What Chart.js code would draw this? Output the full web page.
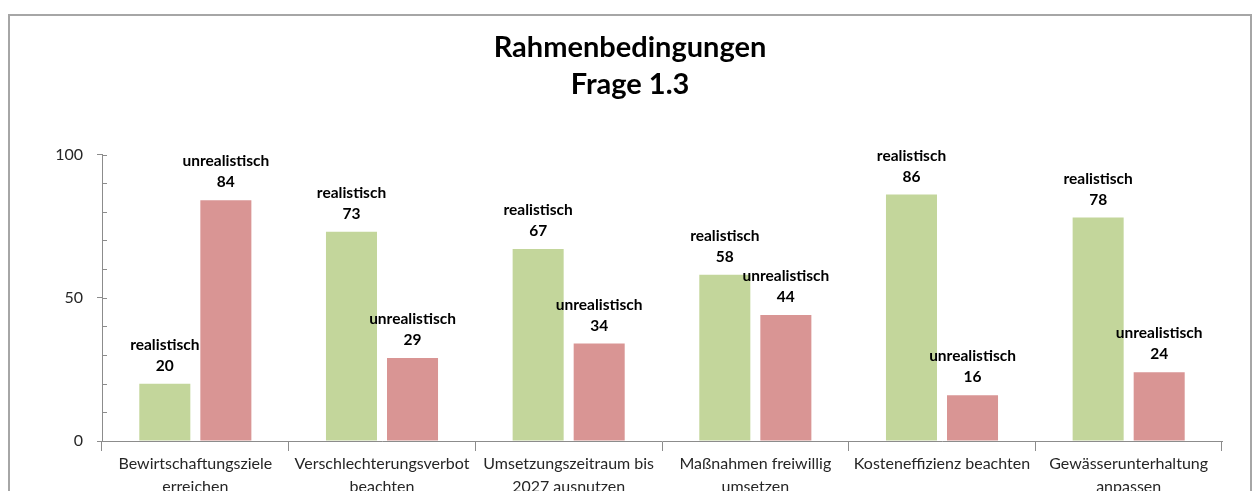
<!DOCTYPE html>
<html>
<head>
<meta charset="utf-8">
<script src="https://cdn.jsdelivr.net/npm/chart.js@4.4.0/dist/chart.umd.min.js"></script>
<style>
  html, body { margin: 0; padding: 0; background: #fff; overflow: hidden; }
  #frame {
    position: absolute; left: 8px; top: 14px;
    width: 1240px; height: 490px;
    border: 2px solid #a6a6a6;
  }
  #chart { display: block; }
</style>
</head>
<body>
<div id="frame"><canvas id="chart" width="1240" height="490"></canvas></div>
<script>
// Frage 1.3 - Rahmenbedingungen
const categories = [
    ['Bewirtschaftungsziele', 'erreichen'],
    ['Verschlechterungsverbot', 'beachten'],
    ['Umsetzungszeitraum bis', '2027 ausnutzen'],
    ['Maßnahmen freiwillig', 'umsetzen'],
    ['Kosteneffizienz beachten'],
    ['Gewässerunterhaltung', 'anpassen']
];
const realistisch = [20, 73, 67, 58, 86, 78];
const unrealistisch = [84, 29, 34, 44, 16, 24];
const yMajorTicks = [0, 50, 100];

const FONT = 'Lato, "Open Sans", sans-serif';
const AXIS_COLOR = '#8c8c8c';

// labels above each bar: series name + value
const barLabels = {
    id: 'barLabels',
    afterDatasetsDraw(chart) {
        const ctx = chart.ctx;
        ctx.save();
        ctx.fillStyle = '#000';
        ctx.font = 'bold 15.5px ' + FONT;
        ctx.textAlign = 'center';
        ctx.textBaseline = 'middle';
        chart.data.datasets.forEach((ds, i) => {
            chart.getDatasetMeta(i).data.forEach((bar, j) => {
                ctx.fillText(ds.label, bar.x, bar.y - 39);
                ctx.fillText(String(ds.data[j]), bar.x, bar.y - 18);
            });
        });
        ctx.restore();
    }
};

// small inside ticks every 10 on the value axis
const minorTicks = {
    id: 'minorTicks',
    afterDraw(chart) {
        const y = chart.scales.y;
        const ctx = chart.ctx;
        ctx.save();
        ctx.strokeStyle = AXIS_COLOR;
        ctx.lineWidth = 1;
        y.ticks.forEach(t => {
            const py = Math.round(y.getPixelForValue(t.value)) + 0.5;
            ctx.beginPath();
            ctx.moveTo(y.right, py);
            ctx.lineTo(y.right + 5, py);
            ctx.stroke();
        });
        ctx.restore();
    }
};

new Chart(document.getElementById('chart'), {
    type: 'bar',
    data: {
        labels: categories,
        datasets: [
            {
                label: 'realistisch',
                data: realistisch,
                backgroundColor: '#c3d69b',
                categoryPercentage: 0.654,
                barPercentage: 0.836
            },
            {
                label: 'unrealistisch',
                data: unrealistisch,
                backgroundColor: '#d99594',
                categoryPercentage: 0.654,
                barPercentage: 0.836
            }
        ]
    },
    options: {
        responsive: false,
        animation: false,
        layout: { padding: 0 },
        plugins: {
            legend: { display: false },
            tooltip: { enabled: false },
            title: {
                display: true,
                text: ['Rahmenbedingungen', 'Frage 1.3'],
                color: '#000',
                font: { family: FONT, size: 29, weight: 'bold', lineHeight: 1.25 },
                padding: { top: 14, bottom: 52 }
            }
        },
        scales: {
            x: {
                grid: {
                    offset: true,
                    drawOnChartArea: false,
                    tickLength: 10,
                    color: AXIS_COLOR
                },
                border: { color: AXIS_COLOR },
                ticks: {
                    color: '#262626',
                    font: { family: FONT, size: 16, lineHeight: 1.4 },
                    padding: 2,
                    maxRotation: 0,
                    autoSkip: false
                },
                afterFit(scale) { scale.height = 65; }
            },
            y: {
                min: 0,
                max: 100,
                grid: {
                    drawOnChartArea: false,
                    tickLength: 5,
                    color: ctx => yMajorTicks.includes(ctx.tick && ctx.tick.value) ? AXIS_COLOR : 'rgba(0,0,0,0)'
                },
                border: { color: AXIS_COLOR },
                ticks: {
                    stepSize: 10,
                    autoSkip: false,
                    color: '#262626',
                    font: { family: FONT, size: 16 },
                    padding: 14,
                    callback: v => yMajorTicks.includes(v) ? v : ''
                },
                afterFit(scale) { scale.width = 92; }
            },
            // empty right-hand spacer so the title stays centred on the frame
            spacer: {
                position: 'right',
                min: 0,
                max: 100,
                grid: { display: false },
                border: { display: false },
                ticks: { display: false },
                afterFit(scale) { scale.width = 28; }
            }
        }
    },
    plugins: [barLabels, minorTicks]
});
</script>
</body>
</html>
